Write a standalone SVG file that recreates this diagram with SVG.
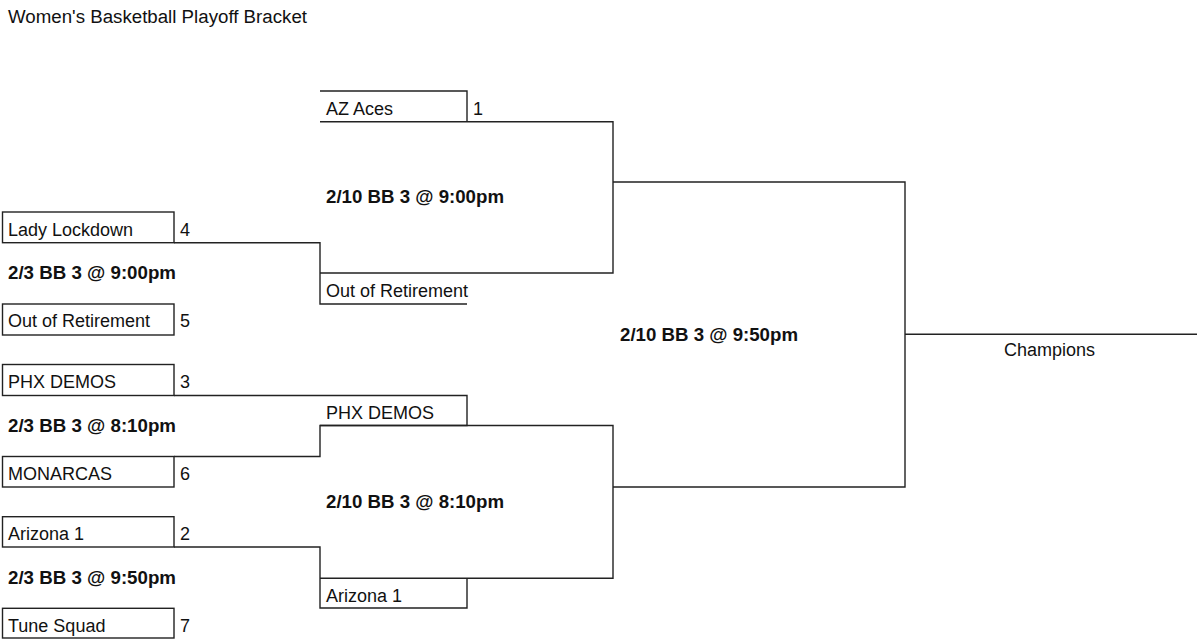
<svg xmlns="http://www.w3.org/2000/svg" width="1200" height="641" viewBox="0 0 1200 641">
<style>
text{font-family:"Liberation Sans",Arial,sans-serif;font-size:18px;fill:#111}
.b{font-weight:bold}
.ln{fill:none;stroke:#222;stroke-width:1.4}
.box{fill:#fff;stroke:#222;stroke-width:1.4}
</style>
<rect width="1200" height="641" fill="#fff"/>
<text id="title" x="8" y="22.5" textLength="299" lengthAdjust="spacingAndGlyphs">Women's Basketball Playoff Bracket</text>
<g id="connectors" class="ln">
<path d="M174 242.7H320V304H467"/>
<path d="M320 273H613V121.7H320"/>
<path d="M174 395.5H467V425.5H320V456.5H174"/>
<path d="M320 425.5H613V578.3H320"/>
<path d="M174 547H320V608H467V578.3"/>
<path d="M320 91H467V121.7"/>
<path d="M613 182H905V487H613"/>
<path d="M905 334.3H1197"/>
</g>
<g id="r1-lady-lockdown"><rect class="box" x="2.5" y="212" width="171.5" height="30.7"/><text x="8" y="236">Lady Lockdown</text><text x="180" y="236">4</text></g>
<g id="r1-out-of-retirement"><rect class="box" x="2.5" y="304" width="171.5" height="31"/><text x="8" y="327">Out of Retirement</text><text x="180" y="327">5</text></g>
<g id="r1-phx-demos"><rect class="box" x="2.5" y="364.5" width="171.5" height="31"/><text x="8" y="388">PHX DEMOS</text><text x="180" y="388">3</text></g>
<g id="r1-monarcas"><rect class="box" x="2.5" y="456.5" width="171.5" height="30.5"/><text x="8" y="480">MONARCAS</text><text x="180" y="480">6</text></g>
<g id="r1-arizona-1"><rect class="box" x="2.5" y="516.7" width="171.5" height="30.3"/><text x="8" y="540">Arizona 1</text><text x="180" y="540">2</text></g>
<g id="r1-tune-squad"><rect class="box" x="2.5" y="608.3" width="171.5" height="29.7"/><text x="8" y="631.5">Tune Squad</text><text x="180" y="631.5">7</text></g>
<g id="game-1"><text class="b" x="8" y="279" textLength="168" lengthAdjust="spacingAndGlyphs">2/3 BB 3 @ 9:00pm</text></g>
<g id="game-2"><text class="b" x="8" y="431.5" textLength="168" lengthAdjust="spacingAndGlyphs">2/3 BB 3 @ 8:10pm</text></g>
<g id="game-3"><text class="b" x="8" y="583.8" textLength="168" lengthAdjust="spacingAndGlyphs">2/3 BB 3 @ 9:50pm</text></g>
<g id="r2-az-aces"><text x="326" y="114.5">AZ Aces</text><text x="473" y="114.5">1</text></g>
<g id="r2-out-of-retirement"><text x="326" y="296.7">Out of Retirement</text></g>
<g id="r2-phx-demos"><text x="326" y="418.5">PHX DEMOS</text></g>
<g id="r2-arizona-1"><text x="326" y="601.5">Arizona 1</text></g>
<g id="game-4"><text class="b" x="326" y="203.3" textLength="178" lengthAdjust="spacingAndGlyphs">2/10 BB 3 @ 9:00pm</text></g>
<g id="game-5"><text class="b" x="326" y="508.3" textLength="178" lengthAdjust="spacingAndGlyphs">2/10 BB 3 @ 8:10pm</text></g>
<g id="game-6"><text class="b" x="620" y="341" textLength="178" lengthAdjust="spacingAndGlyphs">2/10 BB 3 @ 9:50pm</text></g>
<g id="champions"><text x="1004" y="356">Champions</text></g>
</svg>
